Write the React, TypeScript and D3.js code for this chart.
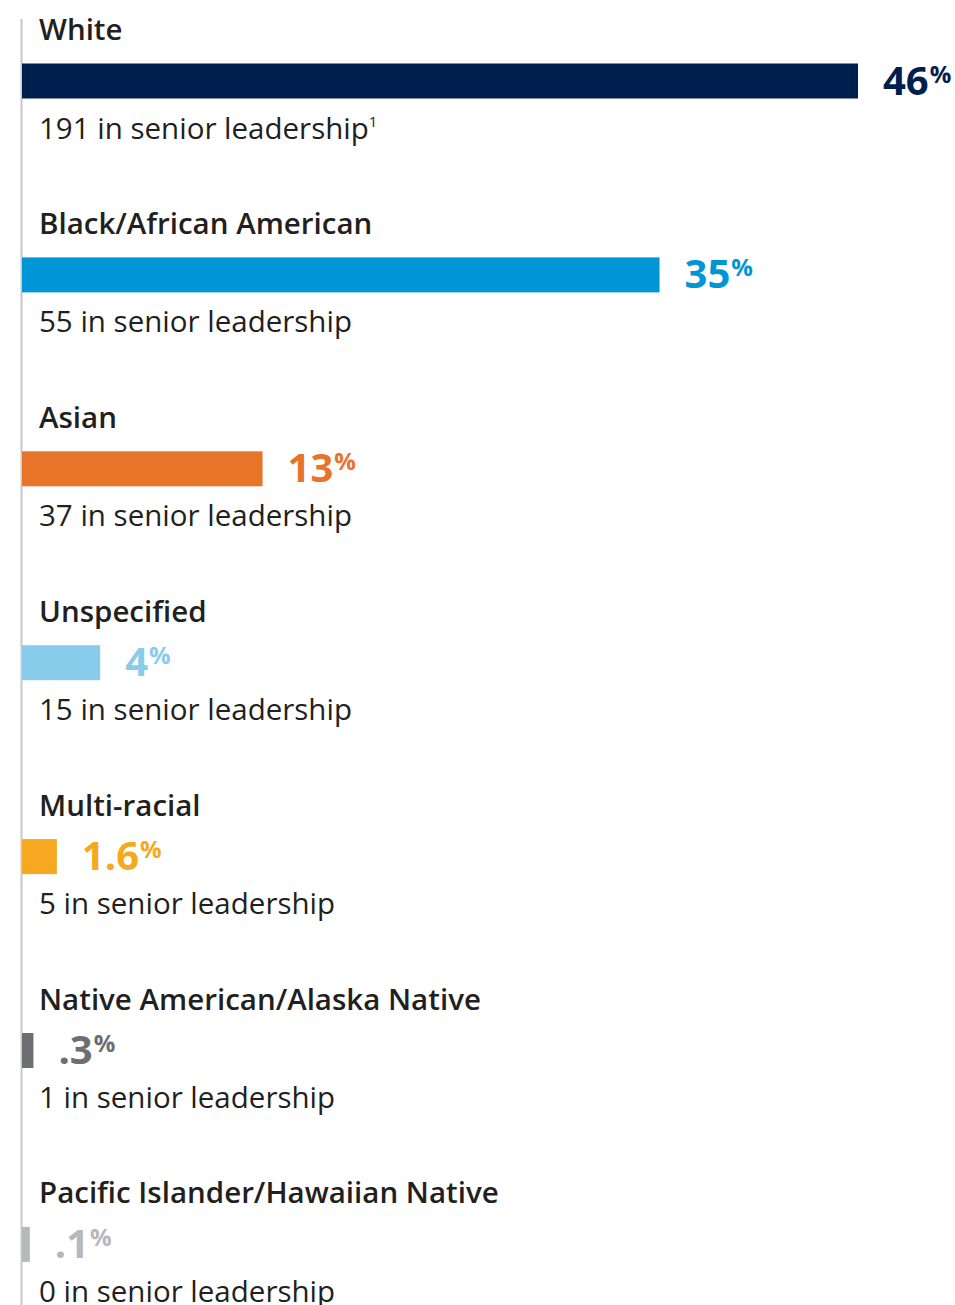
import React from "react";
import * as d3 from "d3";

const categories = [
  "White",
  "Black/African American",
  "Asian",
  "Unspecified",
  "Multi-racial",
  "Native American/Alaska Native",
  "Pacific Islander/Hawaiian Native",
];
const shares = [46, 35, 13, 4, 1.6, 0.3, 0.1];
const leaderCounts = [191, 55, 37, 15, 5, 1, 0];
const footnotes = ["1", "", "", "", "", "", ""];
const colors = ["#001f4e", "#0096d6", "#e8742a", "#89cbeb", "#f5a820", "#6d6e71", "#b7b8ba"];

const width = 955;
const height = 1305;
const font = "'Open Sans', sans-serif";

const fmtShare = (v: number) => (v < 1 ? d3.format(".1f")(v).replace(/^0/, "") : String(v));

const Chart = () => {
  const x0 = 22;
  // bars keep a small stub so tiny shares stay visible
  const xScale = d3.scaleLinear().domain([0, 46]).range([6, 836]);
  const yScale = d3
    .scaleBand()
    .domain(categories)
    .range([63.5, 63.5 + 193.9 * categories.length])
    .paddingInner(0)
    .paddingOuter(0);
  const barH = 35;

  return (
    <svg width={width} height={height} style={{ position: "absolute", left: 0, top: 0 }} fontFamily={font}>
      <line x1={21.5} x2={21.5} y1={19} y2={height} stroke="#c8c8c8" strokeWidth={2} />
      {categories.map((cat, i) => {
        const y = yScale(cat) as number;
        const w = xScale(shares[i]);
        return (
          <g key={cat}>
            <text x={39} y={y - 23.5} fontSize={29.5} fontWeight={600} fill="#231f20">
              {cat}
            </text>
            <rect x={x0} y={y} width={w} height={barH} fill={colors[i]} />
            <text x={x0 + w + 25} y={y + 31} fill={colors[i]} fontWeight={700}>
              <tspan fontSize={40}>{fmtShare(shares[i])}</tspan>
              <tspan fontSize={24} dy={-12} dx={1}>%</tspan>
            </text>
            <text x={39} y={y + barH + 40} fontSize={29.5} fontWeight={400} fill="#231f20">
              {`${leaderCounts[i]} in senior leadership`}
              {footnotes[i] && (
                <tspan fontSize={15} dy={-12}>
                  {footnotes[i]}
                </tspan>
              )}
            </text>
          </g>
        );
      })}
    </svg>
  );
};

export default function App() {
  return <Chart />;
}
